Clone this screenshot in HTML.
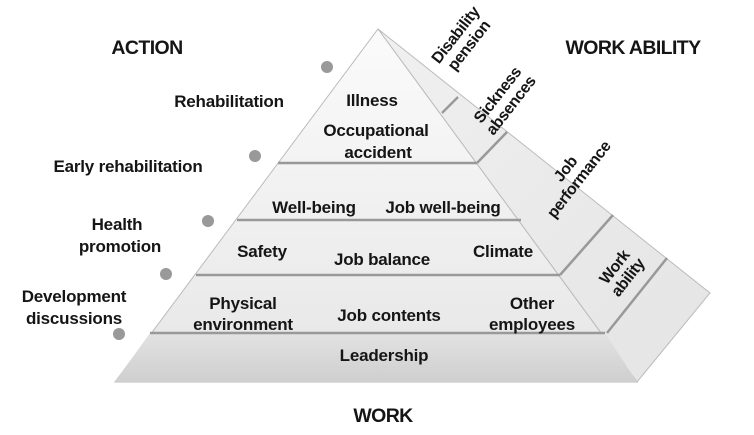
<!DOCTYPE html>
<html><head><meta charset="utf-8"><style>
html,body{margin:0;padding:0;background:#fff;}
svg{display:block;}
text{font-family:"Liberation Sans",Arial,sans-serif;font-weight:bold;fill:#151515;}
</style></head><body>
<svg width="754" height="435" viewBox="0 0 754 435" xmlns="http://www.w3.org/2000/svg">
<defs>
<linearGradient id="f" x1="0" y1="0" x2="0" y2="1"><stop offset="0" stop-color="#fbfbfb"/><stop offset="1" stop-color="#e6e6e6"/></linearGradient>
<linearGradient id="b" x1="0" y1="0" x2="0" y2="1"><stop offset="0" stop-color="#e2e2e2"/><stop offset="1" stop-color="#cfcfcf"/></linearGradient>
<linearGradient id="s" x1="0" y1="0" x2="1" y2="1"><stop offset="0" stop-color="#f0f0f0"/><stop offset="1" stop-color="#e4e4e4"/></linearGradient>
</defs>
<polygon points="378,29 710,293 637,382" fill="url(#s)" stroke="#bbb" stroke-width="1"/>
<polygon points="378,29 637,382 115,382" fill="url(#f)" stroke="#bbb" stroke-width="1"/>
<polygon points="150,333 605,333 637,382 115,382" fill="url(#b)"/>
<g stroke="#999" stroke-width="2.5">
<line x1="278" y1="163" x2="477" y2="163"/>
<line x1="237" y1="220" x2="521" y2="220"/>
<line x1="196" y1="275" x2="560" y2="275"/>
<line x1="150" y1="333" x2="605" y2="333"/>
<line x1="442" y1="113" x2="458" y2="97"/>
<line x1="477" y1="163" x2="507" y2="132"/>
<line x1="560" y1="275" x2="613" y2="215"/>
<line x1="607" y1="333" x2="667" y2="258"/>
</g>
<g fill="#999">
<circle cx="327" cy="67" r="6"/><circle cx="255" cy="156" r="6"/><circle cx="208" cy="221" r="6"/><circle cx="166" cy="274" r="6"/><circle cx="119" cy="334" r="6"/>
</g>
<g font-size="19.5" text-anchor="middle" letter-spacing="-0.6">
<text x="147" y="54">ACTION</text>
<text x="633" y="54">WORK ABILITY</text>
<text x="383" y="422">WORK</text>
</g>
<g font-size="17" text-anchor="middle" letter-spacing="-0.2">
<text x="229" y="107">Rehabilitation</text>
<text x="128" y="172">Early rehabilitation</text>
<text x="117" y="230">Health</text><text x="120" y="252">promotion</text>
<text x="74" y="302">Development</text><text x="74" y="324">discussions</text>
<text x="372" y="106">Illness</text>
<text x="376" y="136">Occupational</text><text x="378" y="158">accident</text>
<text x="314" y="213">Well-being</text>
<text x="443" y="213">Job well-being</text>
<text x="262" y="257">Safety</text>
<text x="382" y="265">Job balance</text>
<text x="503" y="257">Climate</text>
<text x="243" y="309">Physical</text><text x="243" y="330">environment</text>
<text x="389" y="321">Job contents</text>
<text x="532" y="309">Other</text><text x="532" y="330">employees</text>
<text x="384" y="361">Leadership</text>
</g>
<g font-size="16" text-anchor="middle" letter-spacing="-0.4">
<g transform="translate(462,40) rotate(-52)"><text x="0" y="-3">Disability</text><text x="0" y="14">pension</text></g>
<g transform="translate(504,100) rotate(-52)"><text x="0" y="-3">Sickness</text><text x="0" y="14">absences</text></g>
<g transform="translate(572,174) rotate(-52)"><text x="0" y="-3">Job</text><text x="0" y="14">performance</text></g>
<g transform="translate(621,272) rotate(-52)"><text x="0" y="-3">Work</text><text x="0" y="14">ability</text></g>
</g>
</svg>
</body></html>
